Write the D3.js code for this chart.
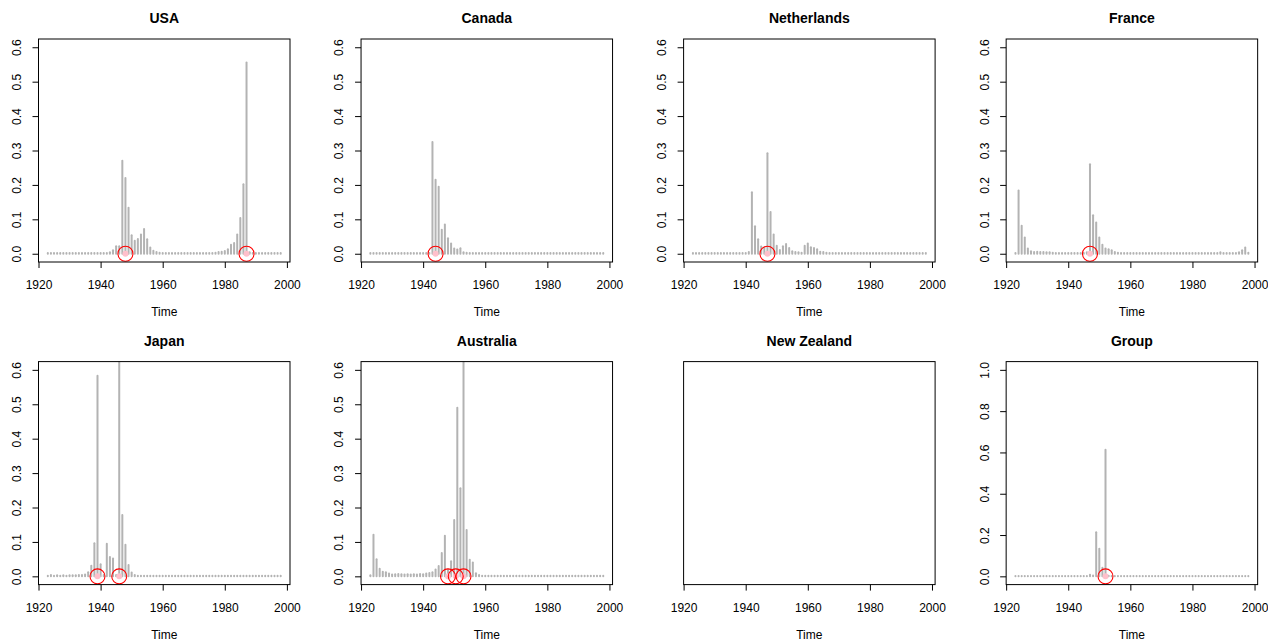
<!DOCTYPE html>
<html>
<head>
<meta charset="utf-8">
<script src="https://cdn.jsdelivr.net/npm/d3@7"></script>
<style>
  body { margin: 0; background: #fff; }
  text { font-family: "Liberation Sans", Arial, Helvetica, sans-serif; fill: #000; }
</style>
</head>
<body>
<div id="chart"></div>
<script>
// yearly values 1923..1998
var years = d3.range(1923, 1999);

var usaValues = [
  0.002,0.002,0.002,0.002,0.002,0.002,0.002,0.002,0.002,0.002,0.002,0.002,0.002,0.002,0.002,0.002,0.002,0.002,0.002,0.002,0.004,
  0.01,0.022,0.022,0.27,0.22,0.134,0.054,0.038,0.043,0.056,0.072,0.042,0.018,0.009,0.005,0.003,
  0.002,0.002,0.002,0.002,0.002,0.002,0.002,0.002,0.002,0.002,0.002,0.002,0.002,0.002,0.002,0.002,0.002,
  0.003,0.005,0.006,0.008,0.013,0.026,0.031,0.056,0.104,0.202,0.556,0.004,
  0.002,0.002,0.002,0.002,0.002,0.002,0.002,0.002,0.002,0.002
];
var canadaValues = [
  0.002,0.002,0.002,0.002,0.002,0.002,0.002,0.002,0.002,0.002,0.002,0.002,0.002,0.002,0.002,0.002,0.002,0.002,0.002,0.002,
  0.325,0.215,0.195,0.07,0.085,0.045,0.03,0.015,0.012,0.016,0.004,0.003,
  0.002,0.002,0.002,0.002,0.002,0.002,0.002,0.002,0.002,0.002,0.002,0.002,0.002,0.002,0.002,0.002,0.002,0.002,0.002,0.002,0.002,0.002,
  0.002,0.002,0.002,0.002,0.002,0.002,0.002,0.002,0.002,0.002,0.002,0.002,0.002,0.002,0.002,0.002,0.002,0.002,0.002,0.002,0.002,0.002
];
var netherlandsValues = [
  0.002,0.002,0.002,0.002,0.002,0.002,0.002,0.002,0.002,0.002,0.002,0.002,0.002,0.002,0.002,0.002,0.002,0.002,
  0.005,0.179,0.08,0.042,0.021,0.018,0.292,0.121,0.056,0.023,0.011,0.022,0.028,0.017,0.007,0.005,0.004,0.003,
  0.023,0.03,0.019,0.017,0.013,0.006,0.005,0.003,
  0.002,0.002,0.002,0.002,0.002,0.002,0.002,0.002,0.002,0.002,0.002,0.002,0.002,0.002,0.002,0.002,
  0.002,0.002,0.002,0.002,0.002,0.002,0.002,0.002,0.002,0.002,0.002,0.002,0.002,0.002,0.002,0.002
];
var franceValues = [
  0.002,0.184,0.081,0.047,0.015,0.007,0.005,0.006,0.005,0.005,0.004,0.004,0.003,
  0.002,0.002,0.002,0.002,0.002,0.002,0.002,0.002,0.002,0.002,
  0.004,0.26,0.112,0.091,0.047,0.026,0.015,0.013,0.01,0.005,0.003,
  0.002,0.002,0.002,0.002,0.002,0.002,0.002,0.002,0.002,0.002,0.002,0.002,0.002,0.002,0.002,0.002,
  0.002,0.002,0.002,0.002,0.002,0.002,0.002,0.002,0.002,0.002,0.002,0.002,0.002,0.002,0.002,0.002,
  0.004,0.002,0.002,0.002,0.002,0.002,0.004,0.01,0.018,0.003
];
var japanValues = [
  0.002,0.004,0.002,0.003,0.002,0.003,0.002,0.003,0.003,0.003,0.004,0.004,0.005,0.012,0.031,0.096,0.583,0.035,0.004,
  0.095,0.056,0.052,0.004,0.66,0.178,0.092,0.033,0.011,0.004,
  0.002,0.002,0.002,0.002,0.002,0.002,0.002,0.002,0.002,0.002,0.002,0.002,0.002,0.002,0.002,0.002,0.002,0.002,0.002,0.002,
  0.002,0.002,0.002,0.002,0.002,0.002,0.002,0.002,0.002,0.002,0.002,0.002,0.002,0.002,0.002,0.002,0.002,0.002,0.002,0.002,
  0.002,0.002,0.002,0.002,0.002,0.002,0.002
];
var australiaValues = [
  0.003,0.121,0.05,0.022,0.013,0.012,0.008,0.005,0.006,0.007,0.006,0.005,0.006,0.005,0.006,0.005,0.007,0.006,
  0.008,0.01,0.012,0.02,0.03,0.068,0.118,0.02,0.044,0.164,0.49,0.256,0.66,0.135,0.048,0.04,0.009,0.004,
  0.002,0.002,0.002,0.002,0.002,0.002,0.002,0.002,0.002,0.002,0.002,0.002,0.002,0.002,0.002,0.002,0.002,0.002,0.002,0.002,
  0.002,0.002,0.002,0.002,0.002,0.002,0.002,0.002,0.002,0.002,0.002,0.002,0.002,0.002,0.002,0.002,0.002,0.002,0.002,0.002
];
var groupValues = [
  0.002,0.002,0.002,0.002,0.002,0.002,0.002,0.002,0.002,0.002,0.002,0.002,0.002,0.002,0.002,0.002,0.002,0.002,0.002,0.002,0.002,0.002,0.002,0.002,
  0.008,0.004,0.213,0.134,0.042,0.613,0.003,
  0.002,0.002,0.002,0.002,0.002,0.002,0.002,0.002,0.002,0.002,0.002,0.002,0.002,0.002,0.002,
  0.002,0.002,0.002,0.002,0.002,0.002,0.002,0.002,0.002,0.002,0.002,0.002,0.002,0.002,0.002,
  0.002,0.002,0.002,0.002,0.002,0.002,0.002,0.002,0.002,0.002,0.002,0.002,0.002,0.002,0.002
];

// breakpoint years (red circles)
var usaBreaks = [1948, 1987];
var canadaBreaks = [1944];
var netherlandsBreaks = [1947];
var franceBreaks = [1947];
var japanBreaks = [1939, 1946];
var australiaBreaks = [1948, 1950.5, 1953];
var groupBreaks = [1952];

var xTicks = [1920, 1940, 1960, 1980, 2000];
var yTicksCountry = [0, 0.1, 0.2, 0.3, 0.4, 0.5, 0.6];
var yTicksGroup = [0, 0.2, 0.4, 0.6, 0.8, 1.0];

var panels = [
  {name: "USA", values: usaValues, breaks: usaBreaks, ymax: 0.6, yticks: yTicksCountry},
  {name: "Canada", values: canadaValues, breaks: canadaBreaks, ymax: 0.6, yticks: yTicksCountry},
  {name: "Netherlands", values: netherlandsValues, breaks: netherlandsBreaks, ymax: 0.6, yticks: yTicksCountry},
  {name: "France", values: franceValues, breaks: franceBreaks, ymax: 0.6, yticks: yTicksCountry},
  {name: "Japan", values: japanValues, breaks: japanBreaks, ymax: 0.6, yticks: yTicksCountry},
  {name: "Australia", values: australiaValues, breaks: australiaBreaks, ymax: 0.6, yticks: yTicksCountry},
  {name: "New Zealand", values: null, breaks: [], ymax: 0.6, yticks: null},
  {name: "Group", values: groupValues, breaks: groupBreaks, ymax: 1.0, yticks: yTicksGroup}
];

var W = 1268, H = 641;
var colStep = 322.55, rowStep = 322.6;
var box = {left: 38.5, right: 290, top: 39, bottom: 262};

var svg = d3.select("#chart").append("svg")
    .attr("width", W)
    .attr("height", H)
    .style("display", "block");

svg.append("rect").attr("width", W).attr("height", H).attr("fill", "#fff");

panels.forEach(function(p, i) {
  var col = i % 4, row = Math.floor(i / 4);
  var g = svg.append("g")
      .attr("transform", "translate(" + (col * colStep) + "," + (row * rowStep) + ")");

  // R style: 4% extension of data range
  var x = d3.scaleLinear()
      .domain([1920, 2001])
      .range([box.left, box.right]);
  var y = d3.scaleLinear()
      .domain([-0.04 * p.ymax, 1.04 * p.ymax])
      .range([box.bottom, box.top]);

  var clipId = "clip" + i;
  g.append("clipPath").attr("id", clipId)
    .append("rect")
      .attr("x", box.left).attr("y", box.top)
      .attr("width", box.right - box.left).attr("height", box.bottom - box.top);

  var plot = g.append("g").attr("clip-path", "url(#" + clipId + ")");

  if (p.values) {
    var data = years.map(function(yr, k) { return {year: yr, v: p.values[k]}; });
    plot.selectAll("line.bar")
      .data(data)
      .enter().append("line")
        .attr("class", "bar")
        .attr("x1", function(d) { return x(d.year); })
        .attr("x2", function(d) { return x(d.year); })
        .attr("y1", y(0))
        .attr("y2", function(d) { return y(d.v); })
        .attr("stroke", "#b3b3b3")
        .attr("stroke-width", 2)
        .attr("stroke-linecap", "round");

    plot.selectAll("circle.dot")
      .data(p.breaks)
      .enter().append("circle")
        .attr("class", "dot")
        .attr("cx", function(d) { return x(d); })
        .attr("cy", y(0))
        .attr("r", 3)
        .attr("fill", "pink");

    plot.selectAll("circle.brk")
      .data(p.breaks)
      .enter().append("circle")
        .attr("class", "brk")
        .attr("cx", function(d) { return x(d); })
        .attr("cy", y(0))
        .attr("r", 7.5)
        .attr("fill", "none")
        .attr("stroke", "red")
        .attr("stroke-width", 1.1);
  }

  // plot box
  g.append("rect")
    .attr("x", box.left).attr("y", box.top)
    .attr("width", box.right - box.left).attr("height", box.bottom - box.top)
    .attr("fill", "none")
    .attr("stroke", "#000")
    .attr("stroke-width", 1);

  // x axis
  var xa = g.append("g")
      .attr("transform", "translate(0," + box.bottom + ")")
      .call(d3.axisBottom(x).tickValues(xTicks).tickFormat(d3.format("d")).tickSize(6));
  xa.select(".domain").remove();
  xa.selectAll("line").attr("stroke", "#000");
  xa.selectAll("text")
    .attr("y", 27.3)
    .attr("dy", null)
    .style("font-size", "12px");

  // y axis
  if (p.yticks) {
    var ya = g.append("g")
        .attr("transform", "translate(" + box.left + ",0)")
        .call(d3.axisLeft(y).tickValues(p.yticks).tickFormat(d3.format(".1f")).tickSize(6));
    ya.select(".domain").remove();
    ya.selectAll("line").attr("stroke", "#000");
    ya.selectAll("text")
      .attr("transform", "rotate(-90)")
      .attr("x", 0)
      .attr("y", -21.8)
      .attr("dy", "0.35em")
      .attr("text-anchor", "middle")
      .style("font-size", "12px");
  }

  var cx = (box.left + box.right) / 2;
  g.append("text")
    .attr("x", cx).attr("y", 23)
    .attr("text-anchor", "middle")
    .style("font-size", "14px")
    .style("font-weight", "bold")
    .text(p.name);

  g.append("text")
    .attr("x", cx).attr("y", 316)
    .attr("text-anchor", "middle")
    .style("font-size", "12px")
    .text("Time");
});
</script>
</body>
</html>
